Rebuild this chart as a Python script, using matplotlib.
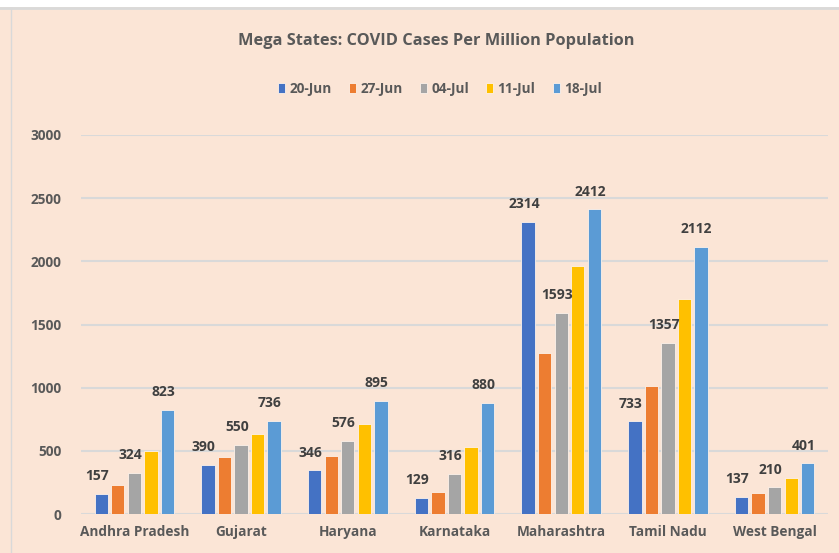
import matplotlib
matplotlib.use("Agg")
import matplotlib.pyplot as plt
import numpy as np
from matplotlib.lines import Line2D
from matplotlib.patches import Rectangle

states = ["Andhra Pradesh", "Gujarat", "Haryana", "Karnataka",
          "Maharashtra", "Tamil Nadu", "West Bengal"]
weeks = ["20-Jun", "27-Jun", "04-Jul", "11-Jul", "18-Jul"]
jun20 = [157, 390, 346, 129, 2314, 733, 137]
jun27 = [230, 448, 456, 177, 1274, 1013, 166]
jul04 = [324, 550, 576, 316, 1593, 1357, 210]
jul11 = [498, 633, 714, 530, 1962, 1701, 282]
jul18 = [823, 736, 895, 880, 2412, 2112, 401]
colors = ["#4472C4", "#ED7D31", "#A5A5A5", "#FFC000", "#5B9BD5"]
labelled = [True, False, True, False, True]

series = [jun20, jun27, jul04, jul11, jul18]

bg = "#FBE5D6"
txt = "#595959"
plt.rcParams['font.family'] = ['Open Sans', 'DejaVu Sans']

fig = plt.figure(figsize=(8.39, 5.53), dpi=100)
fig.patch.set_facecolor(bg)
# white strip on top and frame lines
fig.add_artist(Rectangle((0, 1 - 7/553), 1, 7/553, transform=fig.transFigure,
                         facecolor="white", edgecolor="none"))
fig.add_artist(Line2D([0, 1], [1 - 8/553, 1 - 8/553], transform=fig.transFigure,
                      color="#D9D9D9", lw=2))
fig.add_artist(Line2D([11/839, 11/839], [0, 1 - 8/553], transform=fig.transFigure,
                      color="#D9D9D9", lw=1))

ax = fig.add_axes([81/839, 1 - 514/553, 747/839, (514 - 135)/553])
ax.set_facecolor(bg)

x = np.arange(len(states))
step = 0.155
width = 0.125
for i, (vals, c) in enumerate(zip(series, colors)):
    pos = x + (i - 2) * step
    bars = ax.bar(pos, vals, width, color=c, edgecolor="#FDF2EA", linewidth=0.6,
                  label=weeks[i], zorder=3)
    if labelled[i]:
        for b, v in zip(bars, vals):
            ax.text(b.get_x() + b.get_width()/2 - 0.04, v + 85, str(v),
                    ha="center", va="bottom", fontsize=10, fontweight="bold",
                    color="#404040", zorder=4)

ax.set_xlim(-0.5, len(states) - 0.5)
ax.set_ylim(0, 3000)
ax.set_yticks(range(0, 3001, 500))
ax.yaxis.grid(True, color="#D9D9D9", lw=1.5, zorder=0)
ax.set_axisbelow(True)
for s in ax.spines.values():
    s.set_visible(False)
ax.tick_params(length=0)
ax.tick_params(axis="y", pad=14)
ax.tick_params(axis="x", pad=8)
ax.set_xticks(x)
ax.set_xticklabels(states)
for t in ax.get_xticklabels() + ax.get_yticklabels():
    t.set_fontweight("bold")
    t.set_color(txt)
    t.set_fontsize(9.8)

fig.text(436/839, 1 - 41/553, "Mega States: COVID Cases Per Million Population",
         ha="center", va="center", fontsize=11.8, fontweight="bold", color=txt)
fig.legend(loc="center", bbox_to_anchor=(440/839, 1 - 89/553), ncol=5, frameon=False,
           handlelength=0.5, handleheight=0.8, handletextpad=0.3, columnspacing=1.3,
           prop={"weight": "bold", "size": 9.8}, labelcolor=txt)

fig.savefig("out.png", dpi=100, facecolor=bg)
